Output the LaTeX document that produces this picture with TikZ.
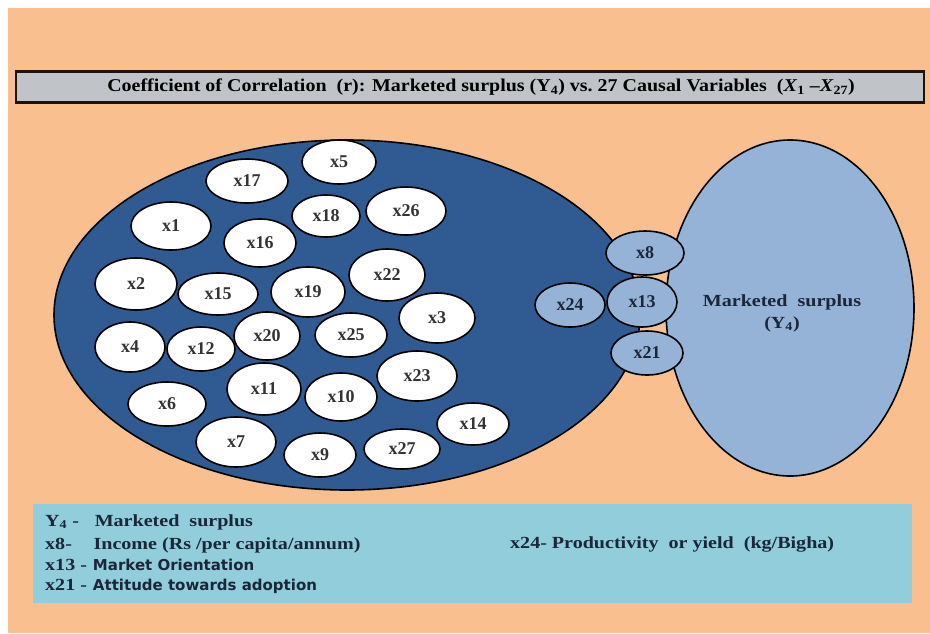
\documentclass[tikz,border=0pt]{standalone}
\usepackage{fontspec}
\setmainfont{Liberation Serif}
\newfontfamily\legsans{DejaVu Sans}
\usepackage{xcolor}
\definecolor{peach}{RGB}{250, 191, 143}
\definecolor{titlegray}{RGB}{192, 196, 201}
\definecolor{pooldark}{RGB}{47, 90, 146}
\definecolor{keylight}{RGB}{149, 179, 215}
\definecolor{legendblue}{RGB}{146, 205, 220}
\definecolor{inknavy}{RGB}{26, 38, 58}
\usetikzlibrary{shapes.geometric}

\newcommand{\widetxt}[1]{\scalebox{1.18}[1]{#1}}

\tikzset{
    cvar/.style 2 args={ellipse, draw=black, line width=1.6pt, fill=white,
        minimum width=#1, minimum height=#2, inner sep=0pt, text=black!80,
        font=\fontsize{18}{18}\selectfont\bfseries},
    keyvar/.style 2 args={cvar={#1}{#2}, fill=keylight, text=inknavy},
    legline/.style={anchor=base west, inner sep=0pt, text=inknavy,
        font=\fontsize{17}{17}\selectfont\bfseries}
}

\begin{document}
\begin{tikzpicture}[x=1pt, y=-1pt]
    \useasboundingbox (0,0) rectangle (930,633);
    \fill[white] (0,0) rectangle (930,633);
    \fill[peach] (8,8) rectangle (930,633);

    % Title bar
    \node[draw=black!85!brown, line width=2.5pt, fill=titlegray, minimum width=908,
        minimum height=31, inner sep=0pt] (title) at (470,87) {};
    \node[inner sep=0pt, font=\fontsize{18}{18}\selectfont\bfseries] (title-text) at (481,87)
        {\scalebox{1.11}[1]{Coefficient of Correlation\ \ (r): Marketed surplus (Y\textsubscript{4}) vs.\ 27 Causal Variables\ \ (\textit{X}\textsubscript{1} --\textit{X}\textsubscript{27})}};

    % Pool of causal variables
    \node[ellipse, draw=black, line width=1.6pt, fill=pooldark, minimum width=586,
        minimum height=350] (pool) at (347,315) {};

    % Marketed surplus
    \node[ellipse, draw=black, line width=1.6pt, fill=keylight, minimum width=248,
        minimum height=336] (surplus) at (790,308) {};
    \node[legline, anchor=base] (surplus-name) at (782,306) {\widetxt{Marketed\ \ surplus}};
    \node[legline, anchor=base] (surplus-sym) at (782,328) {\widetxt{(Y\textsubscript{4})}};

    % Causal variables
    \node[cvar={82}{44}] (x17) at (247,181) {x17};
    \node[cvar={80}{48}] (x1) at (171,226) {x1};
    \node[cvar={72}{48}] (x16) at (260,243) {x16};
    \node[cvar={68}{42}] (x18) at (326,216) {x18};
    \node[cvar={74}{44}] (x5) at (339,162) {x5};
    \node[cvar={80}{48}] (x26) at (406,211) {x26};
    \node[cvar={82}{52}] (x2) at (136,284) {x2};
    \node[cvar={80}{42}] (x15) at (218,294) {x15};
    \node[cvar={74}{50}] (x19) at (308,292) {x19};
    \node[cvar={76}{52}] (x22) at (387,275) {x22};
    \node[cvar={76}{50}] (x3) at (437,318) {x3};
    \node[cvar={70}{50}] (x4) at (130,347) {x4};
    \node[cvar={68}{44}] (x12) at (201,349) {x12};
    \node[cvar={66}{48}] (x20) at (267,336) {x20};
    \node[cvar={72}{44}] (x25) at (351,335) {x25};
    \node[cvar={74}{52}] (x11) at (264,389) {x11};
    \node[cvar={72}{48}] (x10) at (341,397) {x10};
    \node[cvar={78}{44}] (x6) at (167,404) {x6};
    \node[cvar={80}{50}] (x7) at (236,442) {x7};
    \node[cvar={72}{44}] (x9) at (320,455) {x9};
    \node[cvar={80}{50}] (x23) at (417,376) {x23};
    \node[cvar={72}{42}] (x14) at (473,424) {x14};
    \node[cvar={76}{40}] (x27) at (402,449) {x27};

    % Significant variables
    \node[keyvar={70}{44}] (x24) at (570,305) {x24};
    \node[keyvar={78}{44}] (x8) at (645,253) {x8};
    \node[keyvar={70}{50}] (x13) at (642,302) {x13};
    \node[keyvar={72}{44}] (x21) at (647,353) {x21};

    % Legend
    \node[fill=legendblue, minimum width=879, minimum height=99, inner sep=0pt,
        anchor=north west] (keybox) at (33,504) {};
    \node[legline] (leg-y4) at (45,526) {\widetxt{\makebox[42pt][l]{Y\textsubscript{4} -}Marketed\ \ surplus}};
    \node[legline] (leg-x8) at (45,549) {\widetxt{\makebox[41pt][l]{x8-}Income (Rs /per capita/annum)}};
    \node[legline] (leg-x13) at (45,570) {\widetxt{\makebox[40.5pt][l]{x13 -}}{\legsans\fontsize{15}{15}\selectfont Market Orientation}};
    \node[legline] (leg-x21) at (45,590) {\widetxt{\makebox[40.5pt][l]{x21 -}}{\legsans\fontsize{15}{15}\selectfont Attitude towards adoption}};
    \node[legline] (leg-x24) at (510,548) {\widetxt{x24- Productivity\ \ or yield\ \ (kg/Bigha)}};
\end{tikzpicture}
\end{document}
